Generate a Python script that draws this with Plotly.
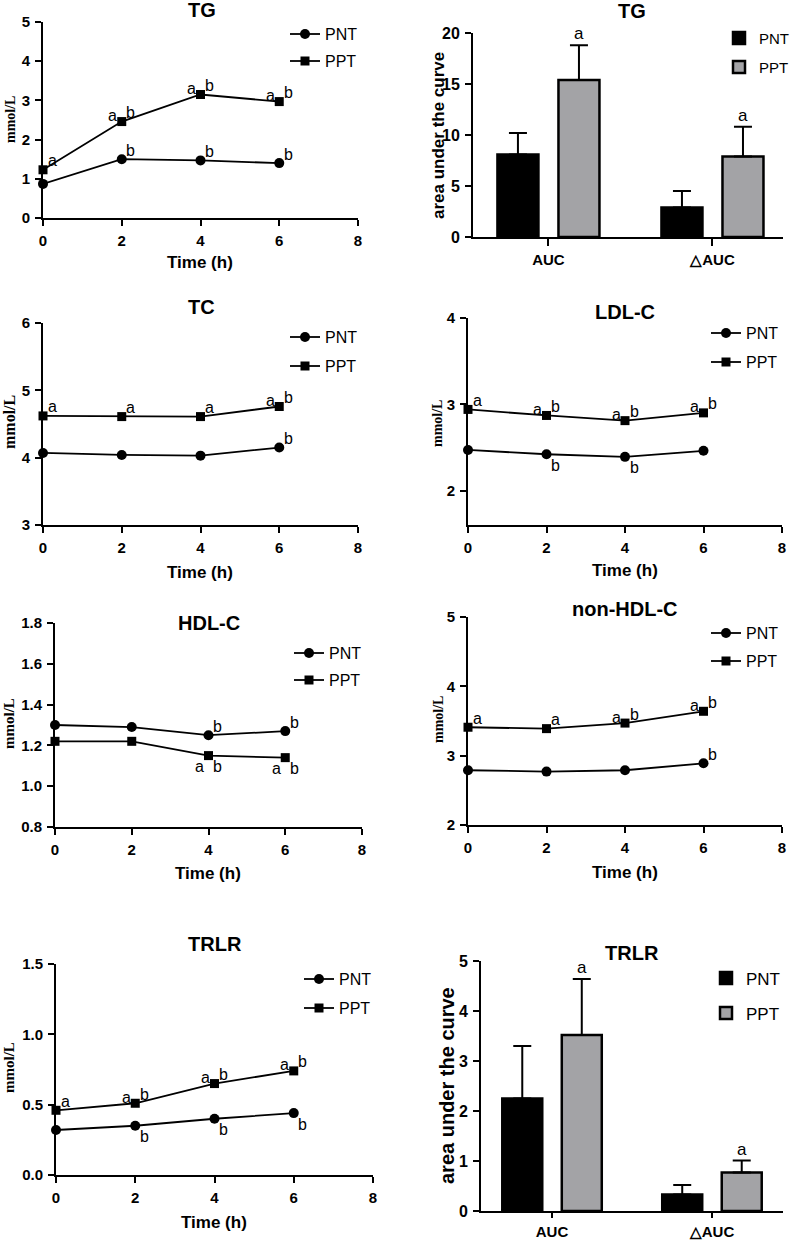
import plotly.graph_objects as go

W, H = 794, 1242

# ---------------- data ----------------
time_h = [0, 2, 4, 6]
group_names = ["PNT", "PPT"]

tg_pnt = [0.87, 1.50, 1.47, 1.40]
tg_ppt = [1.23, 2.46, 3.15, 2.97]
tc_pnt = [4.07, 4.04, 4.03, 4.15]
tc_ppt = [4.62, 4.61, 4.61, 4.76]
ldl_pnt = [2.47, 2.42, 2.39, 2.46]
ldl_ppt = [2.94, 2.87, 2.81, 2.90]
hdl_pnt = [1.30, 1.29, 1.25, 1.27]
hdl_ppt = [1.22, 1.22, 1.15, 1.14]
nonhdl_pnt = [2.79, 2.77, 2.79, 2.89]
nonhdl_ppt = [3.41, 3.39, 3.47, 3.64]
trlr_pnt = [0.32, 0.35, 0.40, 0.44]
trlr_ppt = [0.46, 0.51, 0.65, 0.74]

auc_categories = ["AUC", "△AUC"]
tg_auc_pnt = [8.1, 2.9]
tg_auc_pnt_err = [2.1, 1.6]
tg_auc_ppt = [15.4, 7.9]
tg_auc_ppt_err = [3.4, 2.9]
trlr_auc_pnt = [2.25, 0.33]
trlr_auc_pnt_err = [1.05, 0.19]
trlr_auc_ppt = [3.52, 0.77]
trlr_auc_ppt_err = [1.12, 0.24]
tg_auc_letters = ["a", "a"]
trlr_auc_letters = ["a", "a"]

# significance letters: (series, time index, letter, placement)
tg_letters = [("PPT", 0, "a", "ur"), ("PPT", 1, "a", "ul"), ("PPT", 1, "b", "ur"),
              ("PPT", 2, "a", "ul"), ("PPT", 2, "b", "ur"), ("PPT", 3, "a", "ul"),
              ("PPT", 3, "b", "ur"), ("PNT", 1, "b", "ur"), ("PNT", 2, "b", "ur"),
              ("PNT", 3, "b", "ur")]
tc_letters = [("PPT", 0, "a", "ur"), ("PPT", 1, "a", "ur"), ("PPT", 2, "a", "ur"),
              ("PPT", 3, "a", "ul"), ("PPT", 3, "b", "ur"), ("PNT", 3, "b", "ur")]
ldl_letters = [("PPT", 0, "a", "ur"), ("PPT", 1, "a", "ul"), ("PPT", 1, "b", "ur"),
               ("PPT", 2, "a", "ul"), ("PPT", 2, "b", "ur"), ("PPT", 3, "a", "ul"),
               ("PPT", 3, "b", "ur"), ("PNT", 1, "b", "lr"), ("PNT", 2, "b", "lr")]
hdl_letters = [("PNT", 2, "b", "ur"), ("PNT", 3, "b", "ur"), ("PPT", 2, "a", "ll"),
               ("PPT", 2, "b", "lr"), ("PPT", 3, "a", "ll"), ("PPT", 3, "b", "lr")]
nonhdl_letters = [("PPT", 0, "a", "ur"), ("PPT", 1, "a", "ur"), ("PPT", 2, "a", "ul"),
                  ("PPT", 2, "b", "ur"), ("PPT", 3, "a", "ul"), ("PPT", 3, "b", "ur"),
                  ("PNT", 3, "b", "ur")]
trlr_letters = [("PPT", 0, "a", "ur"), ("PPT", 1, "a", "ul"), ("PPT", 1, "b", "ur"),
                ("PPT", 2, "a", "ul"), ("PPT", 2, "b", "ur"), ("PPT", 3, "a", "ul"),
                ("PPT", 3, "b", "ur"), ("PNT", 1, "b", "lr"), ("PNT", 2, "b", "lr"),
                ("PNT", 3, "b", "lr")]

# ---------------- layout geometry (pixels) ----------------
SANS = "Liberation Sans"
SERIF = "Liberation Serif"

# leg = (text left x, first row centre y, font size, row spacing)
panels = [
    dict(kind="line", title="TG", pnt=tg_pnt, ppt=tg_ppt, letters=tg_letters,
         box=(43, 358, 22, 218), yr=[0, 5], yt=[0, 1, 2, 3, 4, 5], yfmt="",
         title_xy=(202, 10), xt_xy=(200, 262), yl_xy=(11, 120, 14),
         leg=(325, 34, 16, 27), tick=15, xtick=15, xticklen=6),
    dict(kind="bar", title="TG", pnt=tg_auc_pnt, ppt=tg_auc_ppt,
         pnt_err=tg_auc_pnt_err, ppt_err=tg_auc_ppt_err, letters=tg_auc_letters,
         box=(473, 783, 33, 237), yr=[0, 20], yt=[0, 5, 10, 15, 20], yfmt="",
         xr=[-0.46, 1.43], title_xy=(632, 11), yl_xy=(438, 135, 17),
         leg=(759, 38, 15, 29), tick=16, xtick=15, xticklen=7),
    dict(kind="line", title="TC", pnt=tc_pnt, ppt=tc_ppt, letters=tc_letters,
         box=(43, 358, 323, 525), yr=[3, 6], yt=[3, 4, 5, 6], yfmt="",
         title_xy=(201, 307), xt_xy=(200, 572), yl_xy=(10, 422, 16),
         leg=(325, 337, 16, 29), tick=15, xtick=15, xticklen=6),
    dict(kind="line", title="LDL-C", pnt=ldl_pnt, ppt=ldl_ppt, letters=ldl_letters,
         box=(468, 782, 318, 525), yr=[1.6, 4], yt=[2, 3, 4], yfmt="",
         title_xy=(625, 312), xt_xy=(625, 570), yl_xy=(438, 423, 14),
         leg=(746, 333, 16, 29), tick=15, xtick=15, xticklen=6),
    dict(kind="line", title="HDL-C", pnt=hdl_pnt, ppt=hdl_ppt, letters=hdl_letters,
         box=(55, 362, 623, 827), yr=[0.8, 1.8], yt=[0.8, 1.0, 1.2, 1.4, 1.6, 1.8],
         yfmt=".1f", title_xy=(209, 623), xt_xy=(208, 873), yl_xy=(9, 724, 15),
         leg=(329, 653, 16, 27), tick=15, xtick=15, xticklen=6),
    dict(kind="line", title="non-HDL-C", pnt=nonhdl_pnt, ppt=nonhdl_ppt,
         letters=nonhdl_letters, box=(468, 782, 617, 825), yr=[2, 5], yt=[2, 3, 4, 5],
         yfmt="", title_xy=(625, 609), xt_xy=(625, 872), yl_xy=(438, 719, 14),
         leg=(746, 633, 16, 28), tick=15, xtick=15, xticklen=6),
    dict(kind="line", title="TRLR", pnt=trlr_pnt, ppt=trlr_ppt, letters=trlr_letters,
         box=(56, 373, 964, 1175), yr=[0, 1.5], yt=[0, 0.5, 1.0, 1.5], yfmt=".1f",
         title_xy=(215, 944), xt_xy=(214, 1222), yl_xy=(9, 1068, 15),
         leg=(339, 979, 16, 29), tick=15, xtick=15, xticklen=6),
    dict(kind="bar", title="TRLR", pnt=trlr_auc_pnt, ppt=trlr_auc_ppt,
         pnt_err=trlr_auc_pnt_err, ppt_err=trlr_auc_ppt_err, letters=trlr_auc_letters,
         box=(481, 783, 961, 1211), yr=[0, 5], yt=[0, 1, 2, 3, 4, 5], yfmt="",
         xr=[-0.444, 1.444], title_xy=(632, 953), yl_xy=(447, 1086, 20),
         leg=(746, 978, 17, 35), tick=16, xtick=15, xticklen=5),
]

BARGAP = 0.256
BARGROUPGAP = 0.328
bar_offset = (1 - BARGAP) / 4

shift = {"ur": (9, 9), "ul": (-9, 6), "lr": (9, -11), "ll": (-9, -11)}

fig = go.Figure()
annotations = []
layout = dict(width=W, height=H,
              margin=dict(l=0, r=0, t=0, b=0, autoexpand=False),
              paper_bgcolor="white", plot_bgcolor="white", showlegend=True,
              barmode="group", bargap=BARGAP, bargroupgap=BARGROUPGAP)


def paper_text(x, y, text, font, angle=0):
    return dict(x=x / W, y=1 - y / H, xref="paper", yref="paper", text=text,
                xanchor="center", yanchor="middle", textangle=angle,
                showarrow=False, font=font)


for i, p in enumerate(panels):
    n = "" if i == 0 else str(i + 1)
    xa, ya = "x" + n, "y" + n
    legname = "legend" + n
    x0, x1, yt_, yb_ = p["box"]
    xdom = [x0 / W, x1 / W]
    ydom = [1 - yb_ / H, 1 - yt_ / H]
    tickfont = dict(family=SANS, size=p["tick"], color="black", weight="bold")
    xtickfont = dict(family=SANS, size=p["xtick"], color="black", weight="bold")

    if p["kind"] == "line":
        for name, vals, sym, size in (("PNT", p["pnt"], "circle", 10),
                                      ("PPT", p["ppt"], "square", 9)):
            fig.add_trace(go.Scatter(
                x=time_h, y=vals, name=name, mode="lines+markers",
                line=dict(color="black", width=1.8),
                marker=dict(symbol=sym, size=size, color="black"),
                xaxis=xa, yaxis=ya, legend=legname, legendgroup=name + n,
                cliponaxis=False, showlegend=True))
        layout["xaxis" + n] = dict(
            domain=xdom, anchor=ya, range=[0, 8], tickvals=[0, 2, 4, 6, 8],
            showline=True, linewidth=2, linecolor="black", ticks="outside",
            ticklen=p["xticklen"], tickwidth=2, tickcolor="black", showgrid=False,
            zeroline=False, tickfont=xtickfont, ticklabelstandoff=2,
            ticklabeloverflow="allow")
        series = {"PNT": p["pnt"], "PPT": p["ppt"]}
        for s, k, letter, pos in p["letters"]:
            dx, dy = shift[pos]
            annotations.append(dict(
                x=time_h[k], y=series[s][k], xref=xa, yref=ya, text=letter,
                showarrow=False, xshift=dx, yshift=dy, xanchor="center",
                yanchor="middle", font=dict(family=SANS, size=16, color="black")))
        cx, cy = p["xt_xy"]
        annotations.append(paper_text(
            cx, cy, "Time (h)",
            dict(family=SANS, size=17, color="black", weight="bold")))
        lx, ly, lfs = p["yl_xy"]
        annotations.append(paper_text(
            lx, ly, "mmol/L",
            dict(family=SERIF, size=lfs, color="black", weight="bold"), -90))
    else:
        for name, vals, errs, fill in (("PNT", p["pnt"], p["pnt_err"], "black"),
                                       ("PPT", p["ppt"], p["ppt_err"], "#a3a3a6")):
            fig.add_trace(go.Bar(
                x=auc_categories, y=vals, name=name,
                marker=dict(color=fill, line=dict(color="black", width=2.5)),
                error_y=dict(type="data", array=errs, arrayminus=[0] * len(errs),
                             symmetric=False, color="black", thickness=2, width=9),
                xaxis=xa, yaxis=ya, legend=legname, legendgroup=name + n,
                showlegend=True))
        layout["xaxis" + n] = dict(
            domain=xdom, anchor=ya, type="category", range=p["xr"],
            categoryorder="array", categoryarray=auc_categories,
            showline=True, linewidth=2, linecolor="black", ticks="outside",
            ticklen=p["xticklen"], tickwidth=2, tickcolor="black", showgrid=False,
            zeroline=False, tickfont=xtickfont, ticklabelstandoff=1,
            ticklabeloverflow="allow")
        for k, letter in enumerate(p["letters"]):
            annotations.append(dict(
                x=k + bar_offset, y=p["ppt"][k] + p["ppt_err"][k], xref=xa, yref=ya,
                text=letter, showarrow=False, xanchor="center", yanchor="bottom",
                yshift=0, font=dict(family=SANS, size=17, color="black")))
        lx, ly, lfs = p["yl_xy"]
        annotations.append(paper_text(
            lx, ly, "area under the curve",
            dict(family=SANS, size=lfs, color="black", weight="bold"), -90))

    layout["yaxis" + n] = dict(
        domain=ydom, anchor=xa, range=p["yr"], tickvals=p["yt"],
        tickformat=p["yfmt"], showline=True, linewidth=2, linecolor="black",
        ticks="outside", ticklen=6, tickwidth=2, tickcolor="black",
        showgrid=False, zeroline=False, tickfont=tickfont, ticklabelstandoff=2)

    tx, ty = p["title_xy"]
    annotations.append(paper_text(
        tx, ty, p["title"], dict(family=SANS, size=20, color="black", weight="bold")))

    gx, gy, gfs, gap = p["leg"]
    item_h = 1.3 * gfs + 3
    top = gy - (item_h / 2 + 5)
    layout[legname] = dict(
        x=(gx - 40) / W, y=1 - top / H, xanchor="left", yanchor="top",
        bgcolor="rgba(0,0,0,0)", borderwidth=0, traceorder="grouped",
        tracegroupgap=max(gap - item_h, 0),
        font=dict(family=SANS, size=gfs, color="black"))

layout["annotations"] = annotations
fig.update_layout(**layout)
fig.write_html(
    "out.html",
    config={"displayModeBar": False},
    post_script="document.body.style.margin='0';document.body.style.padding='0';"
                "document.body.style.overflow='hidden';")
